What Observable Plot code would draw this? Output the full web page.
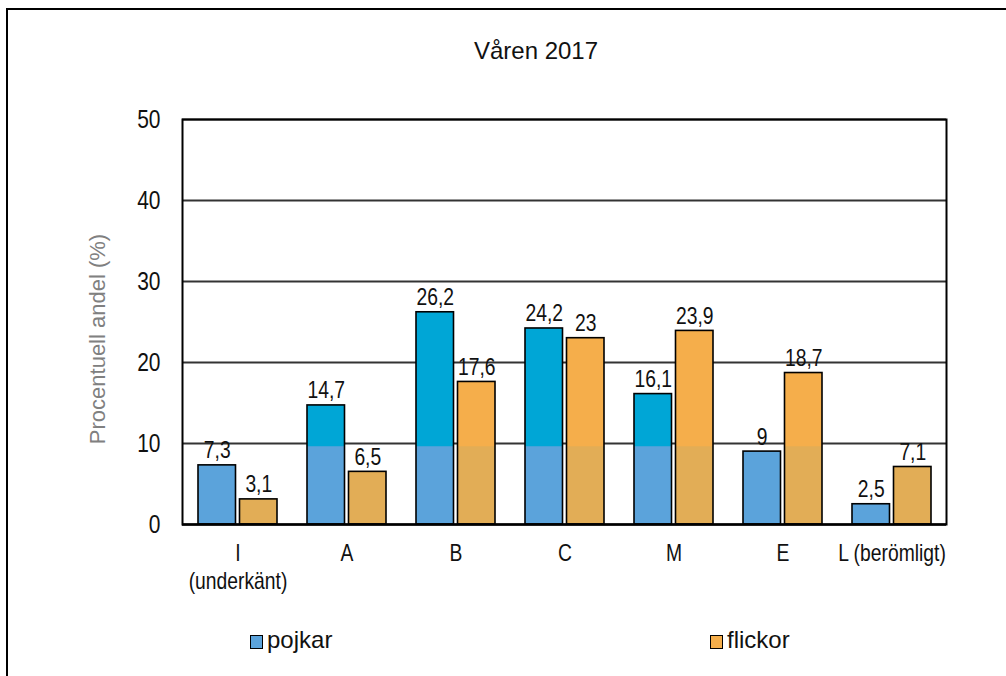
<!DOCTYPE html>
<html>
<head>
<meta charset="utf-8">
<script src="https://cdn.jsdelivr.net/npm/d3@7"></script>
<script src="https://cdn.jsdelivr.net/npm/@observablehq/plot@0.6"></script>
<style>
  html, body { margin: 0; padding: 0; background: #fff; }
  body { width: 1006px; height: 676px; position: relative; overflow: hidden;
         font-family: "Liberation Sans", Arial, sans-serif; }
  #border { position: absolute; left: 6px; top: 8px; width: 1010px; height: 700px;
            border-left: 2px solid #000; border-top: 2px solid #000; box-sizing: border-box; }
  #title { position: absolute; top: 37px; left: 0; width: 1072px; text-align: center;
           font-size: 24px; color: #111; }
  #chart { position: absolute; top: 80px; left: 0; }
  .leg { position: absolute; top: 626px; font-size: 24px; color: #111; display: flex; align-items: center; }
  .sw { width: 11px; height: 12px; border: 1.5px solid #000; margin-right: 4px; margin-top: 3px; }
</style>
</head>
<body>
<div id="border"></div>
<div id="title">Våren 2017</div>
<div id="chart"></div>
<div class="leg" style="left:250px"><div class="sw" style="background:#5ba3db"></div>pojkar</div>
<div class="leg" style="left:710px"><div class="sw" style="background:#f5ae4b"></div>flickor</div>
<script>
const categories = ["I", "A", "B", "C", "M", "E", "L"];
const categoryLabels = ["I\n(underkänt)", "A", "B", "C", "M", "E", "L (berömligt)"];
const pojkar = [7.3, 14.7, 26.2, 24.2, 16.1, 9, 2.5];
const flickor = [3.1, 6.5, 17.6, 23, 23.9, 18.7, 7.1];
const yTicks = [0, 10, 20, 30, 40, 50];

const font = '"Liberation Sans", Arial, sans-serif';
const split = 9.6;
const P = categories.map((c, i) => ({cat: c, v: pojkar[i]}));
const F = categories.map((c, i) => ({cat: c, v: flickor[i]}));
const fmt = v => String(v).replace(".", ",");
const labelMap = new Map(categories.map((c, i) => [c, categoryLabels[i]]));

const inNear = 15, inFar = 56.5;
const pIns = {insetLeft: inNear, insetRight: inFar};
const fIns = {insetLeft: inFar, insetRight: inNear};

function barsFor(data, ins, upper, lower, dx) {
  return [
    Plot.barY(data, {x: "cat", y: "v", fill: upper, ...ins}),
    Plot.barY(data, {x: "cat", y1: 0, y2: d => Math.min(d.v, split), fill: lower, ...ins}),
    Plot.barY(data, {x: "cat", y: "v", fill: "none", stroke: "#000", strokeWidth: 1.6, ...ins}),
    Plot.text(data, {x: "cat", y: "v", text: d => fmt(d.v), dx, dy: -7, lineAnchor: "bottom",
                     fontSize: 23, fill: "#111"})
  ];
}

const chart = Plot.plot({
  width: 1006,
  height: 520,
  marginLeft: 182,
  marginRight: 60,
  marginTop: 39,
  marginBottom: 76,
  style: {fontFamily: font, background: "transparent"},
  x: {domain: categories, padding: 0, label: null},
  y: {domain: [0, 50], label: null},
  marks: [
    Plot.ruleY(yTicks.filter(t => t > 0), {stroke: "#333", strokeWidth: 2}),
    ...barsFor(P, pIns, "#00a6d6", "#5ba3db", -20.8),
    ...barsFor(F, fIns, "#f5ae4b", "#e2ad56", 20.8),
    Plot.frame({stroke: "#000", strokeWidth: 2}),
    Plot.ruleY([0], {stroke: "#000", strokeWidth: 2.5}),
    Plot.axisY({ticks: yTicks, tickSize: 0, tickPadding: 22, fontSize: 25, label: null, fill: "#111"}),
    Plot.axisX({tickSize: 0, tickPadding: 17, fontSize: 23, label: null, fill: "#111",
                tickFormat: d => labelMap.get(d), lineHeight: 1.2}),
    Plot.text(["Procentuell andel (%)"], {frameAnchor: "left", rotate: -90, dx: -85, dy: 17,
                                          textAnchor: "middle", fontSize: 22, fill: "#808080"})
  ]
});
document.getElementById("chart").appendChild(chart);
// condense non-rotated texts to mimic the narrow face of the original
d3.select(chart).selectAll("text").each(function() {
  const t = this.getAttribute("transform") || "";
  if (t.includes("rotate")) return;
  this.setAttribute("transform", (t ? t + " " : "") + "scale(0.84,1)");
});
</script>
</body>
</html>
